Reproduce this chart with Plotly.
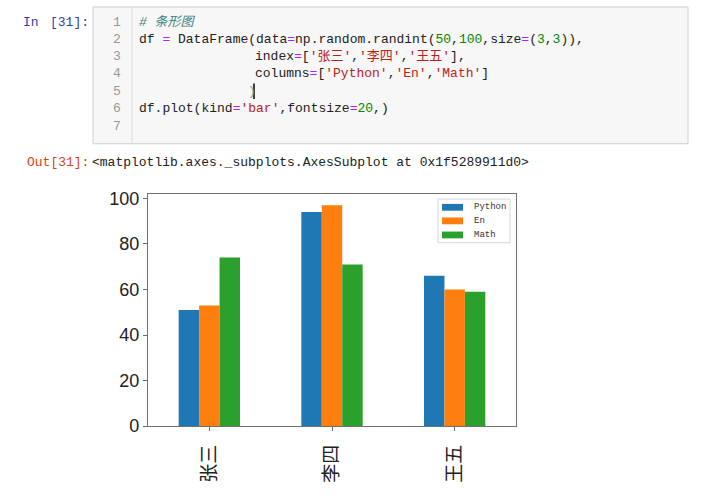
import plotly.graph_objects as go

# ---- data ----
categories = ['张三', '李四', '王五']
series_names = ['Python', 'En', 'Math']
python_vals = [51, 94, 66]
en_vals = [53, 97, 60]
math_vals = [74, 71, 59]
series_values = [python_vals, en_vals, math_vals]
series_colors = ['#1f77b4', '#ff7f0e', '#2ca02c']
y_ticks = [0, 20, 40, 60, 80, 100]

W, H = 709, 504
def px(x):
    return x / W
def py(y):
    return 1 - y / H

fig = go.Figure()
for name, vals, col in zip(series_names, series_values, series_colors):
    fig.add_trace(go.Bar(x=categories, y=vals, name=name, marker=dict(color=col, line=dict(width=0)),
                         showlegend=False))

CODE_FONT = "Liberation Mono, Noto Sans CJK SC, monospace"
EQ = '<span style="color:#aa22ff">=</span>'
def g(s):
    return f'<span style="color:#008800">{s}</span>'
def r(s):
    return f'<span style="color:#ba2121">{s}</span>'

shapes = []
annotations = []

# code cell box
shapes.append(dict(type='rect', xref='paper', yref='paper', x0=px(93), x1=px(688), y0=py(143), y1=py(2),
                   fillcolor='#f7f7f7', line=dict(color='#cfcfcf', width=1), layer='below'))
shapes.append(dict(type='line', xref='paper', yref='paper', x0=px(132), x1=px(132), y0=py(143), y1=py(2),
                   line=dict(color='#dddddd', width=1), layer='below'))
# cursor
shapes.append(dict(type='line', xref='paper', yref='paper', x0=px(254), x1=px(254), y0=py(97), y1=py(81),
                   line=dict(color='#000000', width=1.5)))

line_ys = [18, 36, 53, 71, 89, 107, 125]
for i, yy in enumerate(line_ys):
    annotations.append(dict(text=str(i + 1), x=px(117), y=py(yy), xref='paper', yref='paper',
                            xanchor='center', yanchor='middle', showarrow=False,
                            font=dict(family=CODE_FONT, size=13, color='#999999')))

code_lines = [
    (137, 18, '<i><span style="color:#408080"># 条形图</span></i>'),
    (137, 36, 'df ' + EQ + ' DataFrame(data' + EQ + 'np.random.randint(' + g('50') + ',' + g('100') + ',size' + EQ + '(' + g('3') + ',' + g('3') + ')),'),
    (253, 53, 'index' + EQ + '[' + r("'张三'") + ',' + r("'李四'") + ',' + r("'王五'") + '],'),
    (253, 71, 'columns' + EQ + '[' + r("'Python'") + ',' + r("'En'") + ',' + r("'Math'") + ']'),
    (246, 89, '<span style="color:#88aa88">)</span>'),
    (137, 107, 'df.plot(kind' + EQ + r("'bar'") + ',fontsize' + EQ + g('20') + ',)'),
]
for x, y, t in code_lines:
    annotations.append(dict(text=t, x=px(x), y=py(y), xref='paper', yref='paper',
                            xanchor='left', yanchor='middle', showarrow=False,
                            font=dict(family=CODE_FONT, size=13, color='#222222')))

# prompts
annotations.append(dict(text='In', x=px(21), y=py(18), xref='paper', yref='paper', xanchor='left', yanchor='middle',
                        showarrow=False, font=dict(family=CODE_FONT, size=13, color='#303f9f')))
annotations.append(dict(text='[31]:', x=px(48), y=py(18), xref='paper', yref='paper', xanchor='left', yanchor='middle',
                        showarrow=False, font=dict(family=CODE_FONT, size=13, color='#303f9f')))
annotations.append(dict(text='Out[31]:', x=px(25), y=py(162), xref='paper', yref='paper', xanchor='left', yanchor='middle',
                        showarrow=False, font=dict(family=CODE_FONT, size=13, color='#d84315')))
annotations.append(dict(text='&lt;matplotlib.axes._subplots.AxesSubplot at 0x1f5289911d0&gt;', x=px(90), y=py(162),
                        xref='paper', yref='paper', xanchor='left', yanchor='middle', showarrow=False,
                        font=dict(family=CODE_FONT, size=13, color='#222222')))

# manual matplotlib-style legend
shapes.append(dict(type='rect', xref='paper', yref='paper', x0=px(438), x1=px(510), y0=py(245), y1=py(200),
                   fillcolor='rgba(255,255,255,0.8)', line=dict(color='#d6d6d6', width=1)))
leg_ys = [208.5, 222.5, 237]
for name, col, ly in zip(series_names, series_colors, leg_ys):
    shapes.append(dict(type='rect', xref='paper', yref='paper', x0=px(442), x1=px(463), y0=py(ly + 3.5), y1=py(ly - 3.5),
                       fillcolor=col, line=dict(width=0)))
    annotations.append(dict(text=name, x=px(472), y=py(ly), xref='paper', yref='paper', xanchor='left', yanchor='middle',
                            showarrow=False, font=dict(family='Liberation Mono, monospace', size=9, color='#333333')))

fig.update_layout(
    width=W, height=H, margin=dict(l=0, r=0, t=0, b=0),
    paper_bgcolor='white', plot_bgcolor='white',
    barmode='group', bargap=0.5, bargroupgap=0,
    shapes=shapes, annotations=annotations, showlegend=False,
    xaxis=dict(domain=[px(148), px(516)], type='category', range=[-0.5, 2.5],
               showline=True, mirror=True, linecolor='#707070', linewidth=1.2,
               ticks='outside', ticklen=4, tickcolor='#707070', tickangle=-90,
               ticklabelstandoff=6,
               tickfont=dict(family='Noto Sans CJK SC', size=19, color='#222222'), showgrid=False),
    yaxis=dict(domain=[py(434), py(195)], range=[0, 101.85], tickvals=y_ticks,
               showline=True, mirror=True, linecolor='#707070', linewidth=1.2,
               ticks='outside', ticklen=4, tickcolor='#707070',
               tickfont=dict(family='Liberation Sans, Arial', size=18, color='#222222'),
               showgrid=False, zeroline=False),
)

fig.write_html("out.html")
